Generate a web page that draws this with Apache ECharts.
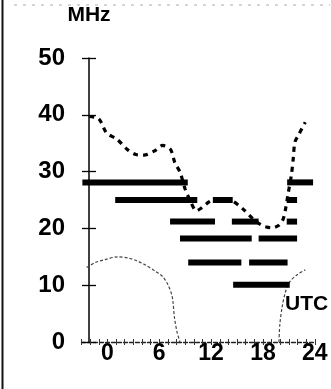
<!DOCTYPE html>
<html><head><meta charset="utf-8">
<script src="https://cdn.jsdelivr.net/npm/echarts@6/dist/echarts.min.js"></script>
<style>html,body{margin:0;padding:0;background:#fff}#c{width:331px;height:389px}</style>
</head><body><div id="c"></div>
<script>
// ---- data ----
const xTickLabels = [0, 6, 12, 18, 24];          // UTC hours labelled
const yTickLabels = [0, 10, 20, 30, 40, 50];     // MHz

// upper dotted curve (MUF)
const mufHours = [-2.1,-1.0,-0.1,1.1,2.3,3.3,4.2,5.4,6.4,7.3,7.8,8.4,9.0,9.6,10.3,10.8,11.8,12.5,13.5,14.5,15.7,16.9,17.7,18.3,19.0,19.8,20.3,20.6,20.9,21.3,21.5,21.7,22.1,22.9];
const mufMHz   = [39.7,39.3,36.8,35.7,33.9,33.0,32.9,33.6,34.6,33.9,31.6,29.9,26.9,24.8,23.1,23.5,24.7,25.1,25.2,24.8,23.4,21.6,20.7,20.3,20.1,20.5,21.5,23.3,26.0,29.5,32.2,35.2,36.4,38.7];

// lower thin curve (LUF), morning part and evening part
const lufAHours = [-2.4,-1.4,-0.3,1.2,2.4,3.4,4.35,5.5,6.4,7.0,7.45,7.6,7.75,8.05,8.4];
const lufAMHz   = [13.1,14.0,14.5,15.0,14.8,14.3,13.6,12.5,11.5,10.1,8.3,6.9,4.4,1.8,0];
const lufBHours = [19.85,19.95,20.2,20.6,21.1,22.0,22.9];
const lufBMHz   = [0,3,6,8.8,10.6,11.9,12.7];

// thick band segments: start hour, end hour, frequency
const segStart = [-2.9, 20.8, 0.9, 12.2, 20.75, 7.25, 14.4, 20.75, 8.4, 17.5, 9.35, 16.4, 14.55];
const segEnd   = [ 9.3, 23.8, 10.4, 14.5, 21.95, 12.45, 17.5, 21.95, 16.7, 21.95, 15.5, 20.85, 21.1];
const segMHz   = [28.1, 28.1, 25.0, 25.0, 25.0, 21.2, 21.2, 21.2, 18.2, 18.2, 14.0, 14.0, 10.1];

// ---- build ----
const zip = (a, b) => a.map((v, i) => [v, b[i]]);
const segData = segStart.map((s, i) => [s, segEnd[i], segMHz[i]]);
const FONT = '"Liberation Sans", Arial, sans-serif';
const AXIS_SHIFT = -7.5;

const chart = echarts.init(document.getElementById('c'), null, {renderer: 'canvas'});
chart.setOption({
  animation: false,
  backgroundColor: '#fff',
  grid: {left: 81.5, right: 16.2, top: 58, bottom: 47, containLabel: false},
  xAxis: [{
    type: 'value', min: -3, max: 24, interval: 1, position: 'bottom',
    splitLine: {show: false},
    axisLine: {show: true, onZero: false, lineStyle: {color: '#222', width: 1.3, type: [4, 2]}},
    axisTick: {show: true, length: 3, lineStyle: {color: '#333', width: 1}},
    axisLabel: {
      interval: 0, margin: 0, color: '#000', fontSize: 23, fontWeight: 'bold', fontFamily: FONT,
      formatter: v => xTickLabels.indexOf(v) >= 0 ? String(v) : ''
    }
  }, {
    type: 'value', min: -3, max: 24, interval: 1, position: 'bottom',
    splitLine: {show: false}, axisLine: {show: false, onZero: false},
    axisTick: {show: true, inside: true, length: 3, lineStyle: {color: '#333', width: 1}},
    axisLabel: {show: false}
  }],
  yAxis: [{
    type: 'value', min: 0, max: 50, interval: 10, position: 'left', offset: AXIS_SHIFT,
    name: 'MHz', nameLocation: 'end', nameGap: 32,
    nameTextStyle: {color: '#000', fontSize: 21, fontWeight: 'bold', fontFamily: FONT},
    splitLine: {show: false},
    axisLine: {show: true, onZero: false, lineStyle: {color: '#000', width: 1.5}},
    axisTick: {show: true, length: 7, lineStyle: {color: '#000', width: 1.3}},
    axisLabel: {
      margin: 24, color: '#000', fontSize: 24, fontWeight: 'bold', fontFamily: FONT,
      formatter: v => yTickLabels.indexOf(v) >= 0 ? String(v) : ''
    }
  }, {
    type: 'value', min: 0, max: 50, interval: 10, position: 'left', offset: AXIS_SHIFT,
    splitLine: {show: false}, axisLine: {show: false, onZero: false},
    axisTick: {show: true, inside: true, length: 7, lineStyle: {color: '#000', width: 1.3}},
    axisLabel: {show: false}
  }],
  graphic: [
    {type: 'line', shape: {x1: 2.5, y1: 0, x2: 2.5, y2: 389}, style: {stroke: '#111', lineWidth: 2}},
    {type: 'line', shape: {x1: 14, y1: 5, x2: 330, y2: 5}, style: {stroke: '#aaa', lineWidth: 1, lineDash: [3, 6]}},
    {type: 'text', left: 285, top: 294, style: {text: 'UTC', fill: '#000', font: 'bold 21px ' + FONT}}
  ],
  series: [
    {
      type: 'line', data: zip(lufAHours, lufAMHz), showSymbol: false, smooth: 0.3,
      lineStyle: {color: '#444', width: 1.2, type: [3, 2]}, z: 2
    },
    {
      type: 'line', data: zip(lufBHours, lufBMHz), showSymbol: false, smooth: 0.3,
      lineStyle: {color: '#444', width: 1.2, type: [3, 2]}, z: 2
    },
    {
      type: 'line', data: zip(mufHours, mufMHz), showSymbol: false, smooth: 0.3,
      lineStyle: {color: '#000', width: 3.2, type: [5, 5]}, z: 3
    },
    {
      type: 'custom', data: segData, encode: {x: [0, 1], y: 2}, z: 4,
      renderItem: (params, api) => {
        const a = api.coord([api.value(0), api.value(2)]);
        const b = api.coord([api.value(1), api.value(2)]);
        return {type: 'line', shape: {x1: a[0], y1: a[1], x2: b[0], y2: b[1]},
                style: {stroke: '#000', lineWidth: 6, lineCap: 'butt'}};
      }
    }
  ]
});
</script></body></html>
